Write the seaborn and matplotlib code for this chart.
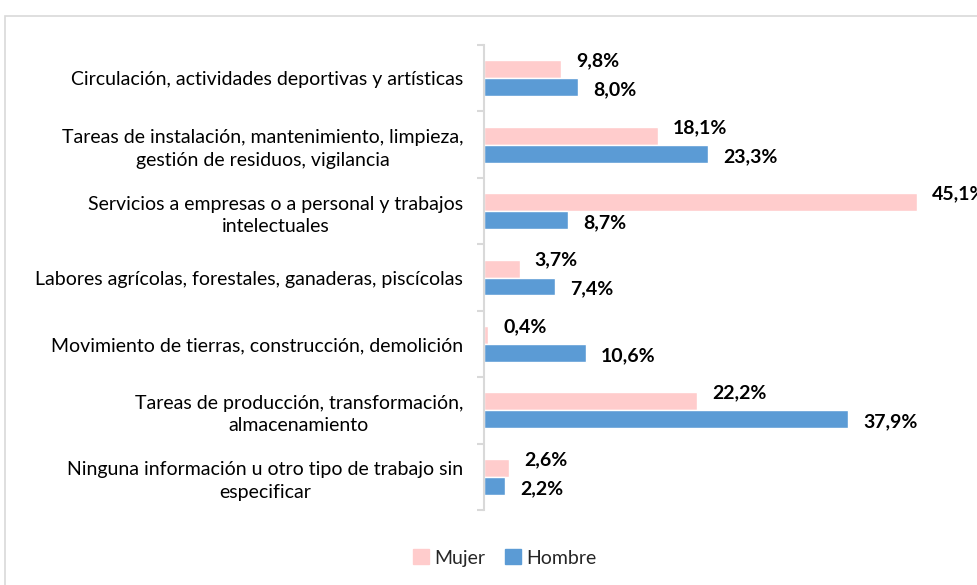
import matplotlib
matplotlib.use("Agg")
import matplotlib.pyplot as plt
import matplotlib.patches as mpatches
import seaborn as sns
import pandas as pd
import numpy as np

categories = [
    "Circulación, actividades deportivas y artísticas",
    "Tareas de instalación, mantenimiento, limpieza,\ngestión de residuos, vigilancia",
    "Servicios a empresas o a personal y trabajos\nintelectuales",
    "Labores agrícolas, forestales, ganaderas, piscícolas",
    "Movimiento de tierras, construcción, demolición",
    "Tareas de producción, transformación,\nalmacenamiento",
    "Ninguna información u otro tipo de trabajo sin\nespecificar",
]
series_names = ["Mujer", "Hombre"]
# bar lengths as drawn in the reference
mujer = [8.0, 18.1, 45.1, 3.7, 0.4, 22.2, 2.6]
hombre = [9.8, 23.3, 8.7, 7.4, 10.6, 37.9, 2.2]
# data labels as printed in the reference
mujer_labels = ["9,8%", "18,1%", "45,1%", "3,7%", "0,4%", "22,2%", "2,6%"]
hombre_labels = ["8,0%", "23,3%", "8,7%", "7,4%", "10,6%", "37,9%", "2,2%"]
colors = ["#FFCCCC", "#5B9BD5"]

df = pd.DataFrame({
    "cat": categories * 2,
    "serie": [series_names[0]] * len(categories) + [series_names[1]] * len(categories),
    "valor": mujer + hombre,
})

sns.set_style("white")
plt.rcParams["font.family"] = ["Lato", "DejaVu Sans"]

fig = plt.figure(figsize=(9.77, 5.85), dpi=100)
ax = fig.add_axes([484 / 977, 1 - 510 / 585, (46 * 9.6) / 977, (510 - 45) / 585])

sns.barplot(data=df, y="cat", x="valor", hue="serie", order=categories,
            hue_order=series_names, palette=colors, orient="h", width=0.54,
            saturation=1, ax=ax, legend=False)

ax.set_xlim(0, 46)
ax.set_ylim(len(categories) - 0.5, -0.5)
ax.set_xlabel("")
ax.set_ylabel("")
ax.set_xticks([])
for s in ["top", "right", "bottom"]:
    ax.spines[s].set_visible(False)
ax.spines["left"].set_color("#D9D9D9")
ax.spines["left"].set_linewidth(1.5)

ax.set_yticks(np.arange(-0.5, len(categories), 1.0), minor=True)
ax.tick_params(axis="y", which="minor", length=5, width=1.5, color="#D9D9D9", left=True)
ax.tick_params(axis="y", which="major", length=0, pad=15, labelsize=14, labelcolor="#000000")
for lab in ax.get_yticklabels():
    lab.set_multialignment("center")
    lab.set_linespacing(1.4)

offsets = [(11, 6), (11, -2)]
label_sets = [mujer_labels, hombre_labels]
for ci, cont in enumerate(ax.containers):
    for bar, txt in zip(cont, label_sets[ci]):
        y = bar.get_y() + bar.get_height() / 2
        ax.annotate(txt, xy=(bar.get_width(), y),
                    xytext=offsets[ci], textcoords="offset points",
                    ha="left", va="center", fontsize=14, fontweight="bold",
                    color="#000000", annotation_clip=False)

handles = [mpatches.Patch(color=c, label=n) for c, n in zip(colors, series_names)]
fig.legend(handles=handles, loc="center", bbox_to_anchor=(505 / 977, 1 - 558 / 585),
           ncol=2, frameon=False, fontsize=14, handlelength=0.8, handleheight=0.8,
           handletextpad=0.3, columnspacing=1.0)

border = mpatches.Rectangle((5 / 977, -0.05), 1.1, 1 - 16 / 585 + 0.05,
                            transform=fig.transFigure, fill=False,
                            edgecolor="#D9D9D9", linewidth=1.2)
fig.patches.append(border)

fig.savefig("out.png", dpi=100)
